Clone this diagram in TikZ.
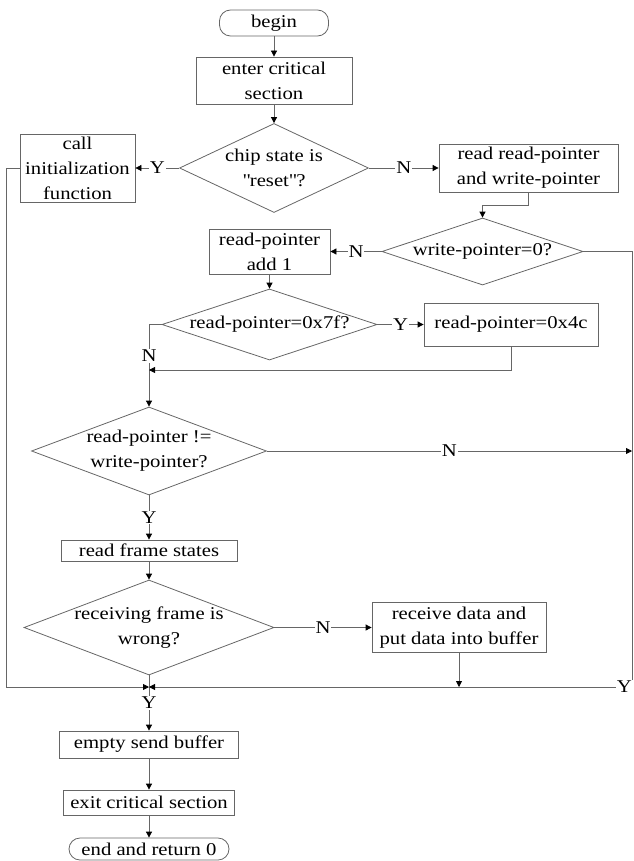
\documentclass[tikz,border=0pt]{standalone}
\usepackage{fontspec}
\setmainfont{Liberation Serif}[FakeStretch=1.15]
\usepackage{tikz}
\usetikzlibrary{positioning,arrows.meta,shapes.geometric,calc}
\newcommand{\flowfont}{\fontsize{18}{25}\selectfont}

\begin{document}
\begin{tikzpicture}[
  x=1pt, y=-1pt,
  font=\flowfont,
  box/.style={rectangle, draw=black!60, line width=0.8pt, inner sep=1pt, align=center},
  term/.style={box, rounded corners=11pt},
  dec/.style={diamond, draw=black!60, line width=0.8pt, inner sep=-60pt, align=center},
  arrow/.style={draw=black!60, line width=0.8pt, -{Triangle[length=6pt,width=6pt,color=black]}},
  lbl/.style={fill=white, inner sep=1pt},
]
\useasboundingbox (0,0) rectangle (633,861);

% main column, top part
\node[term, minimum width=109, minimum height=26] (beg) at (274,23)    {begin};
\node[box,  minimum width=156, minimum height=47] (b1)  at (274,80.5)  {enter critical\\section};
\node[dec,  minimum width=189, minimum height=89] (d1)  at (274,168)   {chip state is\\\textquotedbl reset\textquotedbl?};
\node[box,  minimum width=115, minimum height=68] (b2)  at (77.5,168)  {call\\initialization\\function};
\node[box,  minimum width=179, minimum height=48] (b3)  at (528.5,168) {read read-pointer\\and write-pointer};
\node[dec,  minimum width=201, minimum height=67] (d2)  at (482.5,251.5) {write-pointer=0?};
\node[box,  minimum width=121, minimum height=45] (b4)  at (269.5,251.5) {read-pointer\\add 1};
\node[dec,  minimum width=215, minimum height=71] (d3)  at (269.5,324.5) {read-pointer=0x7f?};
\node[box,  minimum width=174, minimum height=43] (b5)  at (511,324.5) {read-pointer=0x4c};

% lower column
\node[dec,  minimum width=235, minimum height=88] (d4)  at (149,451)   {read-pointer !=\\write-pointer?};
\node[box,  minimum width=176, minimum height=21] (b6)  at (149,550.5) {read frame states};
\node[dec,  minimum width=250, minimum height=95] (d5)  at (149,627.5) {receiving frame is\\wrong?};
\node[box,  minimum width=174, minimum height=50] (b7)  at (459,627.5) {receive data and\\put data into buffer};
\node[box,  minimum width=179, minimum height=27] (b8)  at (149,744.5) {empty send buffer};
\node[box,  minimum width=171, minimum height=25] (b9)  at (149,802.5) {exit critical section};
\node[term, minimum width=160, minimum height=22] (fin) at (149,849)   {end and return 0};

\coordinate (j1) at (149,370);
\coordinate (jm) at (149,687);
\coordinate (rc) at (632,687);

\foreach \a/\b in {beg/b1, b1/d1, b4/d3, b6/d5, b8/b9, b9/fin}{ \draw[arrow] (\a) -- (\b); }

\draw[arrow] (d1.west) -- (b2.east) node[lbl, midway] {Y};
\draw[arrow] (d1.east) -- (b3.west) node[lbl, midway] {N};
\draw[arrow] (b3.south) -- ++(0,13) -| (d2.north);
\draw[arrow] (d2.west) -- (b4.east) node[lbl, midway] {N};
\draw[arrow] (d3.east) -- (b5.west) node[lbl, midway] {Y};
\draw[arrow] (d3.west) -| (d4.north) node[lbl, pos=0.69] {N};
\draw[arrow] (b5.south) |- (j1);
\draw[arrow] (d4.east) -- (d4.east -| rc) node[lbl, midway] {N};
\draw[arrow] (d4.south) -- (b6.north) node[lbl, midway] {Y};
\draw[arrow] (d5.east) -- (b7.west) node[lbl, midway] {N};
\draw[arrow] (b7.south) -- (b7.south |- jm);
\draw[arrow] (d5.south) -- (b8.north) node[lbl, midway] {Y};
\draw[arrow] (b2.west) -- ++(-13,0) |- (jm);
\draw[arrow] (d2.east) -| (rc) -- (jm);
\node[lbl, anchor=east] (ylab) at (633,687) {Y};

\end{tikzpicture}
\end{document}
